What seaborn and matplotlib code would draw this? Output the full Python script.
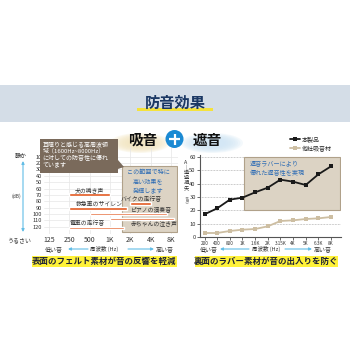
import numpy as np
import pandas as pd
import matplotlib
matplotlib.use("Agg")
import matplotlib.pyplot as plt
import seaborn as sns
from matplotlib.patches import Rectangle, Circle, Ellipse, Polygon

# ---------------- data ----------------
left_freq_ticks = [125, 250, 500, 1000, 2000, 4000, 8000]
left_freq_labels = ["125", "250", "500", "1K", "2K", "4K", "8K"]
db_ticks = [10, 20, 30, 40, 50, 60, 70, 80, 90, 100, 110, 120]

noise_names = ["犬の鳴き声", "バイクの走行音", "救急車のサイレン",
               "ピアノの演奏音", "赤ちゃんの泣き声", "電車の走行音"]
noise_db = [70, 83, 91, 100, 108, 122]
noise_low = [250, 2000, 250, 500, 1000, 250]
noise_high = [1000, 4000, 1800, 7000, 9000, 1600]

right_freq_labels = ["200", "400", "800", "1K", "1.6K", "2K", "3.15K",
                     "4K", "5K", "6.3K", "8K"]
own_product = [17, 21.5, 28, 29.5, 33.5, 37, 43, 41.5, 39, 47, 53]
other_product = [3, 3, 4.5, 5.5, 6, 8, 12, 12.5, 13.5, 14, 15]
series_names = ["本製品", "他社吸音材"]
right_yticks = [0, 10, 20, 30, 40, 50, 60]

# label anchors (layout only)
label_freq = [500, 2900, 700, 4050, 4560, 465]
label_db = [63.5, 76.5, 84.4, 92.7, 114.7, 114.7]

# ---------------- style ----------------
sns.set_theme(style="white")
plt.rcParams["font.family"] = ["Noto Sans CJK JP", "DejaVu Sans"]

W = H = 350.0
fig = plt.figure(figsize=(3.5, 3.5), dpi=100)
fig.patch.set_facecolor("white")


def rect(x0, y0, x1, y1):
    return [x0 / W, 1 - y1 / H, (x1 - x0) / W, (y1 - y0) / H]


ORANGE = "#E2561D"
BEIGE_BOX = "#DCD3C4"
BEIGE_EDGE = "#B0A18A"
BLUE_TXT = "#2F6DB5"
ARROW_BLUE = "#62BDE6"

# ---------------- background layer ----------------
bg = fig.add_axes([0, 0, 1, 1], zorder=0)
bg.set_xlim(0, W)
bg.set_ylim(H, 0)
bg.axis("off")
bg.add_patch(Rectangle((0, 85), 350, 37, fc="#D4DDE7", ec="none"))
bg.add_patch(Rectangle((137, 107.5), 76, 3.5, fc="#F4E23C", ec="none"))
for i in range(8):
    bg.add_patch(Ellipse((140, 143), 60 - i * 5, 20 - i * 1.6,
                         fc="#F3E6BE", ec="none", alpha=0.22))
    bg.add_patch(Ellipse((212, 143), 62 - i * 5, 20 - i * 1.6,
                         fc="#CFE5F5", ec="none", alpha=0.22))

# ---------------- left chart ----------------
axL = fig.add_axes(rect(44, 147, 178, 234), zorder=2)
axL.set_facecolor("none")
axL.set_xscale("log", base=2)
axL.set_xlim(105.4, 10150)
axL.set_ylim(131.5, -5.25)
axL.set_xticks(left_freq_ticks)
axL.set_xticklabels(left_freq_labels)
axL.set_yticks(db_ticks)
axL.set_yticklabels([str(v) for v in db_ticks])
axL.minorticks_off()
axL.grid(True, color="#E6E6E6", lw=0.5)
axL.set_axisbelow(True)
for s in axL.spines.values():
    s.set_visible(False)
axL.tick_params(axis="both", length=0, colors="#333333")
axL.tick_params(axis="x", labelsize=5, pad=1.5)
axL.tick_params(axis="y", labelsize=4.1, pad=1.5)
axL.add_patch(Rectangle((1500, 24.6), 9800 - 1500, 103.5,
                        fc=BEIGE_BOX, ec=BEIGE_EDGE, lw=0.8, zorder=1))
widths = [h - l for l, h in zip(noise_low, noise_high)]
axL.barh(noise_db, widths, left=noise_low, height=4.5, color=ORANGE, zorder=3)
for name, fx, dy in zip(noise_names, label_freq, label_db):
    axL.text(fx, dy, name, fontsize=4.2, color="#333333",
             ha="center", va="center", zorder=4)

# ---------------- right chart ----------------
axR = fig.add_axes(rect(200, 155, 341, 237), zorder=2)
axR.set_facecolor("none")
pos = list(range(len(right_freq_labels)))
df = pd.DataFrame({
    "pos": pos * 2,
    "value": own_product + other_product,
    "series": [series_names[0]] * len(pos) + [series_names[1]] * len(pos),
})
sns.lineplot(data=df, x="pos", y="value", hue="series", hue_order=series_names,
             palette={series_names[0]: "#1A1A1A", series_names[1]: "#CDBEA2"},
             marker="s", markersize=3.3, markeredgewidth=0, linewidth=1.3,
             ax=axR, zorder=3)
axR.set_xlim(-0.356, 10.79)
axR.set_ylim(0, 61.5)
axR.set_xticks(pos)
axR.set_xticklabels(right_freq_labels)
axR.set_yticks(right_yticks)
axR.set_xlabel("")
axR.set_ylabel("")
axR.yaxis.grid(True, linestyle=(0, (1, 1.2)), color="#9A9A9A", lw=0.5)
axR.xaxis.grid(False)
axR.set_axisbelow(True)
axR.add_patch(Rectangle((3.13, 20), 10.75 - 3.13, 40,
                        fc=BEIGE_BOX, ec=BEIGE_EDGE, lw=0.8, zorder=1.5))
for side in ["top", "right"]:
    axR.spines[side].set_visible(False)
for side in ["left", "bottom"]:
    axR.spines[side].set_color("#555555")
    axR.spines[side].set_linewidth(0.8)
axR.tick_params(axis="both", length=2, width=0.5, colors="#333333", pad=1)
axR.tick_params(axis="x", labelsize=3.3, bottom=True)
axR.tick_params(axis="y", labelsize=4.2, left=True)
handles, labels = axR.get_legend_handles_labels()
axR.legend(handles, labels, loc="upper left",
           bbox_to_anchor=(290 / W, 1 - 136.5 / H), bbox_transform=fig.transFigure,
           frameon=False, fontsize=4.3, handlelength=1.6, handletextpad=0.4,
           labelspacing=0.5, borderpad=0, borderaxespad=0)

# ---------------- overlay layer ----------------
ov = fig.add_axes([0, 0, 1, 1], zorder=5)
ov.set_facecolor("none")
ov.set_xlim(0, W)
ov.set_ylim(H, 0)
ov.axis("off")

ov.text(175, 102.5, "防音効果", fontsize=11, fontweight="bold",
        color="#1B3864", ha="center", va="center")
ov.text(142.5, 140, "吸音", fontsize=10.5, fontweight="bold",
        color="#111111", ha="center", va="center")
ov.text(207, 140, "遮音", fontsize=10.5, fontweight="bold",
        color="#111111", ha="center", va="center")
ov.add_patch(Circle((174.5, 139), 9, fc="#1B8AD3", ec="none"))
ov.plot([169, 180], [139, 139], color="white", lw=1.6, solid_capstyle="butt")
ov.plot([174.5, 174.5], [133.5, 144.5], color="white", lw=1.6,
        solid_capstyle="butt")

# callout box
ov.add_patch(Rectangle((40, 139), 78, 33.5, fc="#7A6A5B", ec="none"))
ov.add_patch(Polygon([(118, 160), (118, 169), (124, 167)], closed=True,
                     fc="#7A6A5B", ec="none"))
ov.text(42.5, 141, "耳障りと感じる高周波領\n域（1600Hz~8000Hz）\nに対しての防音性に優れ\nています",
        fontsize=4.3, color="white", ha="left", va="top", linespacing=1.2)
ov.text(148, 168, "この範囲で特に\n高い効果を\n発揮します", fontsize=4.4,
        color=BLUE_TXT, ha="center", va="top", linespacing=1.2)
ov.text(250, 159.5, "遮音ラバーにより\n優れた遮音性を実現", fontsize=4.4,
        color=BLUE_TXT, ha="left", va="top", linespacing=1.25)

# left y annotations
ov.text(21, 156, "静か", fontsize=4.3, color="#333333", ha="center", va="center")
ov.text(16.5, 196, "(dB)", fontsize=3.5, color="#333333", ha="center", va="center")
ov.text(19.5, 240, "うるさい", fontsize=4.3, color="#333333",
        ha="center", va="center")
ov.annotate("", xy=(23, 161), xytext=(23, 232),
            arrowprops=dict(arrowstyle="<|-|>", color=ARROW_BLUE, lw=0.8,
                            mutation_scale=4, shrinkA=0, shrinkB=0))

# right y label (vertical)
ov.text(186, 160, "A\n｜\n透\n過\n損\n失", fontsize=3.8, color="#333333",
        ha="center", va="top", linespacing=0.98)
ov.text(186, 200, "(dB)", fontsize=2.9, color="#333333", ha="center",
        va="center", rotation=-90)


def footnote(x_low, a1, a2, x_mid, a3, a4, x_high, y=249):
    ov.text(x_low, y, "低い音", fontsize=4.3, color="#333333", ha="center", va="center")
    ov.text(x_mid, y, "周波数 (Hz)", fontsize=4.0, color="#333333", ha="center", va="center")
    ov.text(x_high, y, "高い音", fontsize=4.3, color="#333333", ha="center", va="center")
    ov.annotate("", xy=(a1, y), xytext=(a2, y),
                arrowprops=dict(arrowstyle="-|>", color=ARROW_BLUE, lw=0.8,
                                mutation_scale=4, shrinkA=0, shrinkB=0))
    ov.annotate("", xy=(a4, y), xytext=(a3, y),
                arrowprops=dict(arrowstyle="-|>", color=ARROW_BLUE, lw=0.8,
                                mutation_scale=4, shrinkA=0, shrinkB=0))


footnote(54, 68, 88, 104, 128, 154, 165)
footnote(209, 220, 249, 266, 285, 312, 323)

# yellow banners
ov.add_patch(Rectangle((32, 256), 145, 11, fc="#FFF23A", ec="none"))
ov.text(104.5, 261.5, "表面のフェルト素材が音の反響を軽減", fontsize=6.1,
        fontweight="bold", color="#1C2136", ha="center", va="center")
ov.add_patch(Rectangle((195, 256), 143, 11, fc="#FFF23A", ec="none"))
ov.text(266.5, 261.5, "裏面のラバー素材が音の出入りを防ぐ", fontsize=6.1,
        fontweight="bold", color="#1C2136", ha="center", va="center")

fig.savefig("out.png", dpi=100)
